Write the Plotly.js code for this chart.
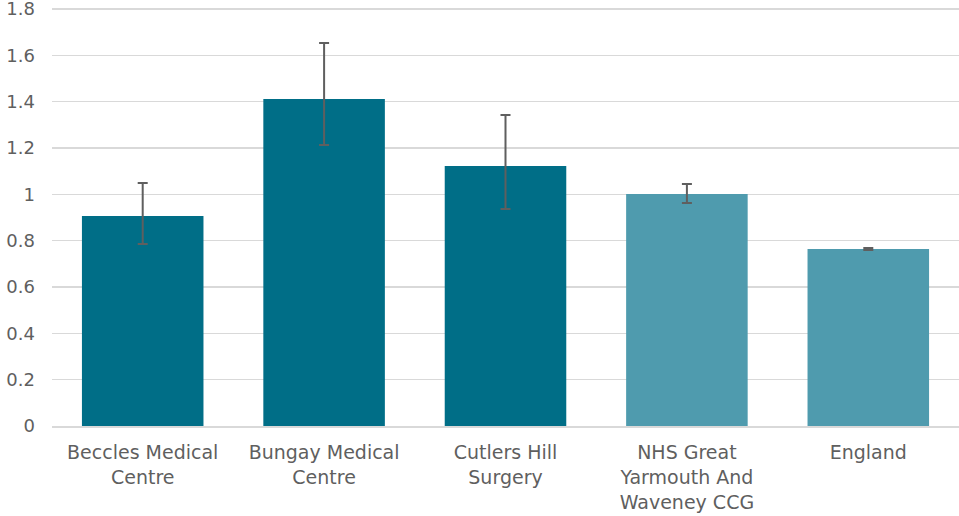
<!DOCTYPE html>
<html>
<head>
<meta charset="utf-8">
<script src="https://cdn.plot.ly/plotly-3.0.1.min.js"></script>
<style>html,body{margin:0;padding:0;background:#fff;}#chart{width:959px;height:516px;}</style>
</head>
<body>
<div id="chart"></div>
<script>
var categories = ["Beccles Medical<br>Centre", "Bungay Medical<br>Centre", "Cutlers Hill<br>Surgery", "NHS Great<br>Yarmouth And<br>Waveney CCG", "England"];
var values = [0.906, 1.411, 1.122, 1.001, 0.764];
var errUpper = [1.049, 1.653, 1.342, 1.045, 0.768];
var errLower = [0.785, 1.213, 0.937, 0.962, 0.760];
var barColors = ["#006E87", "#006E87", "#006E87", "#4F9BAE", "#4F9BAE"];
var yTicks = [0, 0.2, 0.4, 0.6, 0.8, 1, 1.2, 1.4, 1.6, 1.8];

var plus = values.map(function(v, i){ return errUpper[i] - v; });
var minus = values.map(function(v, i){ return v - errLower[i]; });

var trace = {
  type: "bar",
  x: categories,
  y: values,
  marker: {color: barColors},
  error_y: {type: "data", symmetric: false, array: plus, arrayminus: minus, color: "#5f5f5f", thickness: 2, width: 5},
  hoverinfo: "skip"
};

var layout = {
  width: 959, height: 516,
  margin: {l: 52, r: 0, t: 2, b: 90},
  paper_bgcolor: "#fff", plot_bgcolor: "#fff",
  bargap: 0.33,
  showlegend: false,
  font: {family: "'DejaVu Sans', sans-serif", size: 19, color: "#5f5f5f"},
  xaxis: {
    showgrid: false, showline: true, linecolor: "#d9d9d9", linewidth: 1.5,
    ticks: "", tickfont: {size: 19, color: "#5f5f5f"}, automargin: false,
    ticklabelstandoff: 9
  },
  yaxis: {
    range: [0, 1.83], tickvals: yTicks, ticktext: yTicks.map(String),
    showgrid: true, gridcolor: "#d9d9d9", gridwidth: 1.5, zeroline: false,
    showline: false, ticks: "", ticklen: 0, tickfont: {size: 18, color: "#5f5f5f"}, automargin: false,
    ticklabelstandoff: 16, ticklabeloverflow: "allow"
  }
};

Plotly.newPlot("chart", [trace], layout, {displayModeBar: false, staticPlot: true});
</script>
</body>
</html>
